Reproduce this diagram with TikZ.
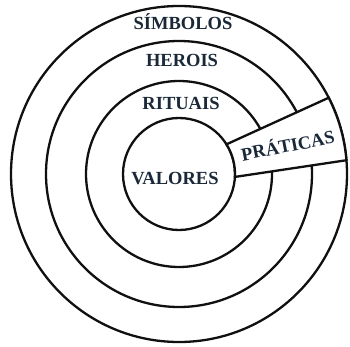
\documentclass[tikz,border=0pt]{standalone}
\usepackage{fontspec}
\setmainfont{Liberation Serif}
\usetikzlibrary{calc}
\definecolor{OnionInk}{HTML}{1A2838}
\definecolor{OnionLine}{HTML}{101010}
\tikzset{
  ringLine/.style={
    draw=OnionLine,
    line width=2.3pt
  },
  ringLabel/.style={
    font=\fontsize{18.5pt}{20pt}\selectfont\bfseries,
    text=OnionInk,
    inner sep=0pt,
    anchor=base
  },
  boxLabel/.style={
    ringLabel,
    rotate=11
  }
}
\begin{document}
\begin{tikzpicture}[x=1pt,y=1pt]
  \useasboundingbox (0,0) rectangle (350,-347);
  \fill[white] (0,0) rectangle (350,-347);
  \coordinate (c) at (179,-174);

  % the four layers
  \draw[ringLine] (c) circle[radius=168];
  \draw[ringLine] (c) circle[radius=133];
  \draw[ringLine] (c) circle[radius=93];
  \draw[ringLine] (c) circle[radius=56];

  % praticas box cut through the rings
  \filldraw[ringLine, fill=white]
    ($(c)+(32:56)$) -- ($(c)+(27:168)$)
    arc[start angle=27, end angle=4.7, radius=168]
    -- ($(c)+(-3:56)$)
    arc[start angle=-3, end angle=32, radius=56] -- cycle;

  \node (simbolos) [ringLabel] at (183,-30) {SÍMBOLOS};
  \node (herois)   [ringLabel] at (182,-67) {HEROIS};
  \node (rituais)  [ringLabel] at (181,-110) {RITUAIS};
  \node (valores)  [ringLabel] at (175,-185) {VALORES};
  \node (praticas) [boxLabel]  at (289,-152) {PRÁTICAS};
\end{tikzpicture}
\end{document}
